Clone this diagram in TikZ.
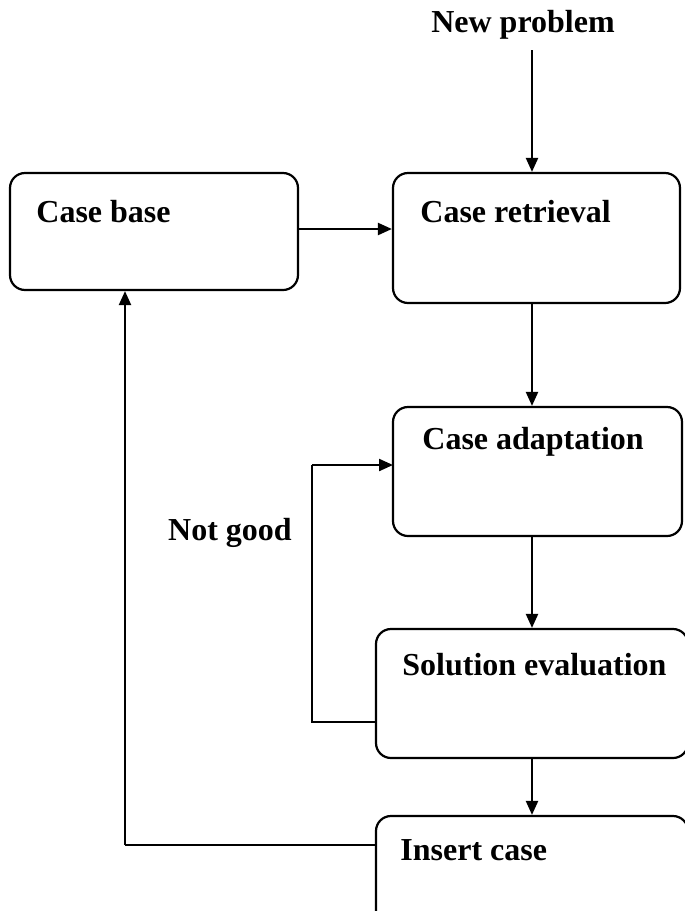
\documentclass[tikz,border=0pt]{standalone}
\usepackage{fontspec}
\setmainfont{Liberation Serif}
\usetikzlibrary{arrows.meta, positioning, calc}

\begin{document}
\begin{tikzpicture}[
        x=0.5pt, y=-0.5pt,
        box/.style={draw, rectangle, rounded corners=7.5pt, line width=1.1pt, inner sep=0pt},
        title/.style={anchor=west, inner sep=0pt, font=\fontsize{16}{19}\selectfont\bfseries},
        arrow/.style={-{Triangle[length=7pt, width=6pt]}, line width=1.1pt},
        link/.style={line width=1.1pt}
    ]
    \clip (0,0) rectangle (685,911);
    \useasboundingbox (0,0) rectangle (685,911);

    % Boxes
    \node[box, minimum width=144pt, minimum height=58.5pt] (base) at (154,231.5) {};
    \node[box, minimum width=143.5pt, minimum height=65pt] (retrieval) at (536.5,238) {};
    \node[box, minimum width=144.5pt, minimum height=64.5pt] (adaptation) at (537.5,471.5) {};
    \node[box, minimum width=156pt, minimum height=64.5pt] (evaluation) at (532,693.5) {};
    \node[box, minimum width=156pt, minimum height=64.5pt] (insert) at (532,880.5) {};

    % Titles
    \node[title] (basetext) at (36,212) {Case base};
    \node[title] (retrievaltext) at (420,212) {Case retrieval};
    \node[title] (adaptationtext) at (422,442) {Case adaptation};
    \node[title] (evaluationtext) at (402,665) {Solution evaluation};
    \node[title] (inserttext) at (400,850) {Insert case};
    \node[title, anchor=center] (problem) at (523,25) {New problem};
    \node[title, anchor=center] (notgood) at (230,533) {Not good};

    % Arrows
    \coordinate (start) at (532,50);
    \coordinate (side) at (298,229);
    \draw[arrow] (start) -- (start |- retrieval.north);
    \draw[arrow] (side) -- (side -| retrieval.west);
    \draw[arrow] (start |- retrieval.south) -- (start |- adaptation.north);
    \draw[arrow] (start |- adaptation.south) -- (start |- evaluation.north);
    \draw[arrow] (start |- evaluation.south) -- (start |- insert.north);

    % Loops
    \coordinate (back) at (376,722);
    \coordinate (turn) at (312,722);
    \coordinate (again) at (393,465);
    \draw[link] (back) -- (turn) -- (turn |- again);
    \draw[arrow] (turn |- again) -- (again);
    \coordinate (keep) at (376,845);
    \coordinate (corner) at (125,845);
    \draw[link] (keep) -- (corner);
    \draw[arrow] (corner) -- (corner |- base.south);

\end{tikzpicture}
\end{document}
